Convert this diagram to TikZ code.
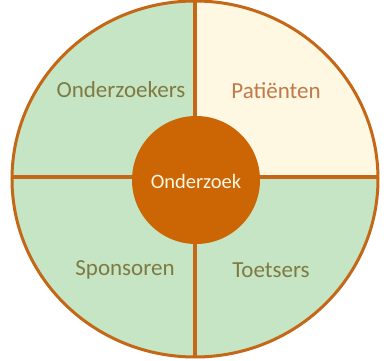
\documentclass[tikz,border=0pt]{standalone}
\usepackage{fontspec}
\setmainfont{Carlito}
\definecolor{rand}{RGB}{196,104,24}
\definecolor{groen}{RGB}{197,229,196}
\definecolor{room}{RGB}{254,247,226}
\definecolor{kern}{RGB}{204,102,4}
\definecolor{olijf}{RGB}{128,122,66}
\definecolor{bruin}{RGB}{190,122,74}
\tikzset{
	deel/.style={font=\fontsize{23}{25}\selectfont, color=olijf},
}

\begin{document}
\begin{tikzpicture}[x=1pt, y=-1pt]
			%%%%% START %%%%%
			\useasboundingbox (0, 0) rectangle (386, 361);
			
			\begin{scope}
				\clip (195, 179) ellipse [x radius=183pt, y radius=178pt];
				\fill[groen] (0, 0) rectangle (386, 361);
				\fill[room] (195, 0) rectangle (386, 177);
				\draw[rand, line width=3.5pt] (195, 0) -- (195, 361);
				\draw[rand, line width=3.5pt] (0, 177) -- (386, 177);
			\end{scope}
			\draw[rand, line width=3pt] (195, 179) ellipse [x radius=183pt, y radius=178pt];
			
			\fill[kern] (196, 180) circle (64pt);
			\node[font=\fontsize{20.5}{22}\selectfont, color=room] (onderzoek) at (196, 181) {Onderzoek};
			
			\node[deel] (onderzoekers) at (121, 90) {Onderzoekers};
			\node[deel, color=bruin] (patienten) at (276, 91) {Patiënten};
			\node[deel] (sponsoren) at (125, 270) {Sponsoren};
			\node[deel] (toetsers) at (271, 270) {Toetsers};
			
			%%%%% END %%%%%
\end{tikzpicture}
\end{document}
